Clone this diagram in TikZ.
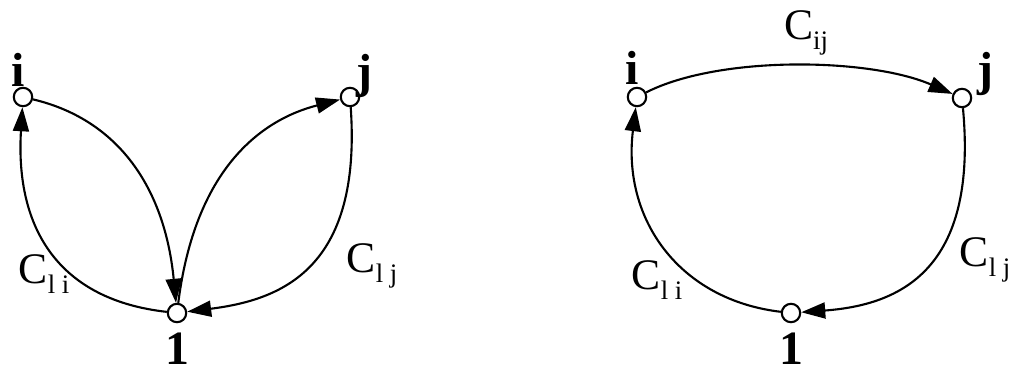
\documentclass[tikz,border=0pt]{standalone}
\usepackage{fontspec}
\setmainfont{Liberation Serif}
\usetikzlibrary{arrows.meta}
\newcommand{\costlabel}[1]{C\raisebox{-0.5ex}{\fontsize{19}{19}\selectfont #1}}
\tikzset{
  vertex/.style={draw,circle,line width=1.5pt,minimum size=0.46cm,inner sep=0pt},
  vname/.style={font=\fontsize{34}{34}\selectfont\bfseries,inner sep=0pt},
  cost/.style={font=\fontsize{31}{31}\selectfont,inner sep=0pt},
  edge/.style={line width=1.5pt,-{Triangle[length=0.6cm,width=0.4cm]}}
}
\begin{document}
\begin{tikzpicture}[x=0.025cm,y=-0.025cm]
\useasboundingbox (0,0) rectangle (1017,375);
% Left graph: two separate tours
\node[vertex] (li) at (23,97) {};
\node[vertex] (lj) at (350,97) {};
\node[vertex] (lo) at (177,313) {};
\node[vname] (lit) at (18,70) {i};
\node[vname] (ljt) at (364,76) {j};
\node[vname] (lot) at (177,349) {1};
\node[cost] (lci) at (44,274) {\costlabel{l i}};
\node[cost] (lcj) at (372,266) {\costlabel{l j}};

\draw[edge] (li) .. controls (120,120) and (165,190) .. (lo);
\draw[edge] (lo) .. controls (60,300) and (15,230) .. (li);
\draw[edge] (lo) .. controls (195,170) and (260,120) .. (lj);
\draw[edge] (lj) .. controls (362,270) and (280,300) .. (lo);

% Right graph: merged tour
\node[vertex] (ri) at (637,97) {};
\node[vertex] (rj) at (962,98) {};
\node[vertex] (ro) at (791,313) {};
\node[vname] (rit) at (632,68) {i};
\node[vname] (rjt) at (985,74) {j};
\node[vname] (rot) at (791,349) {1};
\node[cost] (rcij) at (806,33) {\costlabel{ij}};
\node[cost] (rci) at (657,280) {\costlabel{l i}};
\node[cost] (rcj) at (985,260) {\costlabel{l j}};

\draw[edge] (ri) .. controls (720,55) and (870,58) .. (rj);
\draw[edge] (rj) .. controls (978,270) and (900,305) .. (ro);
\draw[edge] (ro) .. controls (680,300) and (622,220) .. (ri);
\end{tikzpicture}
\end{document}
